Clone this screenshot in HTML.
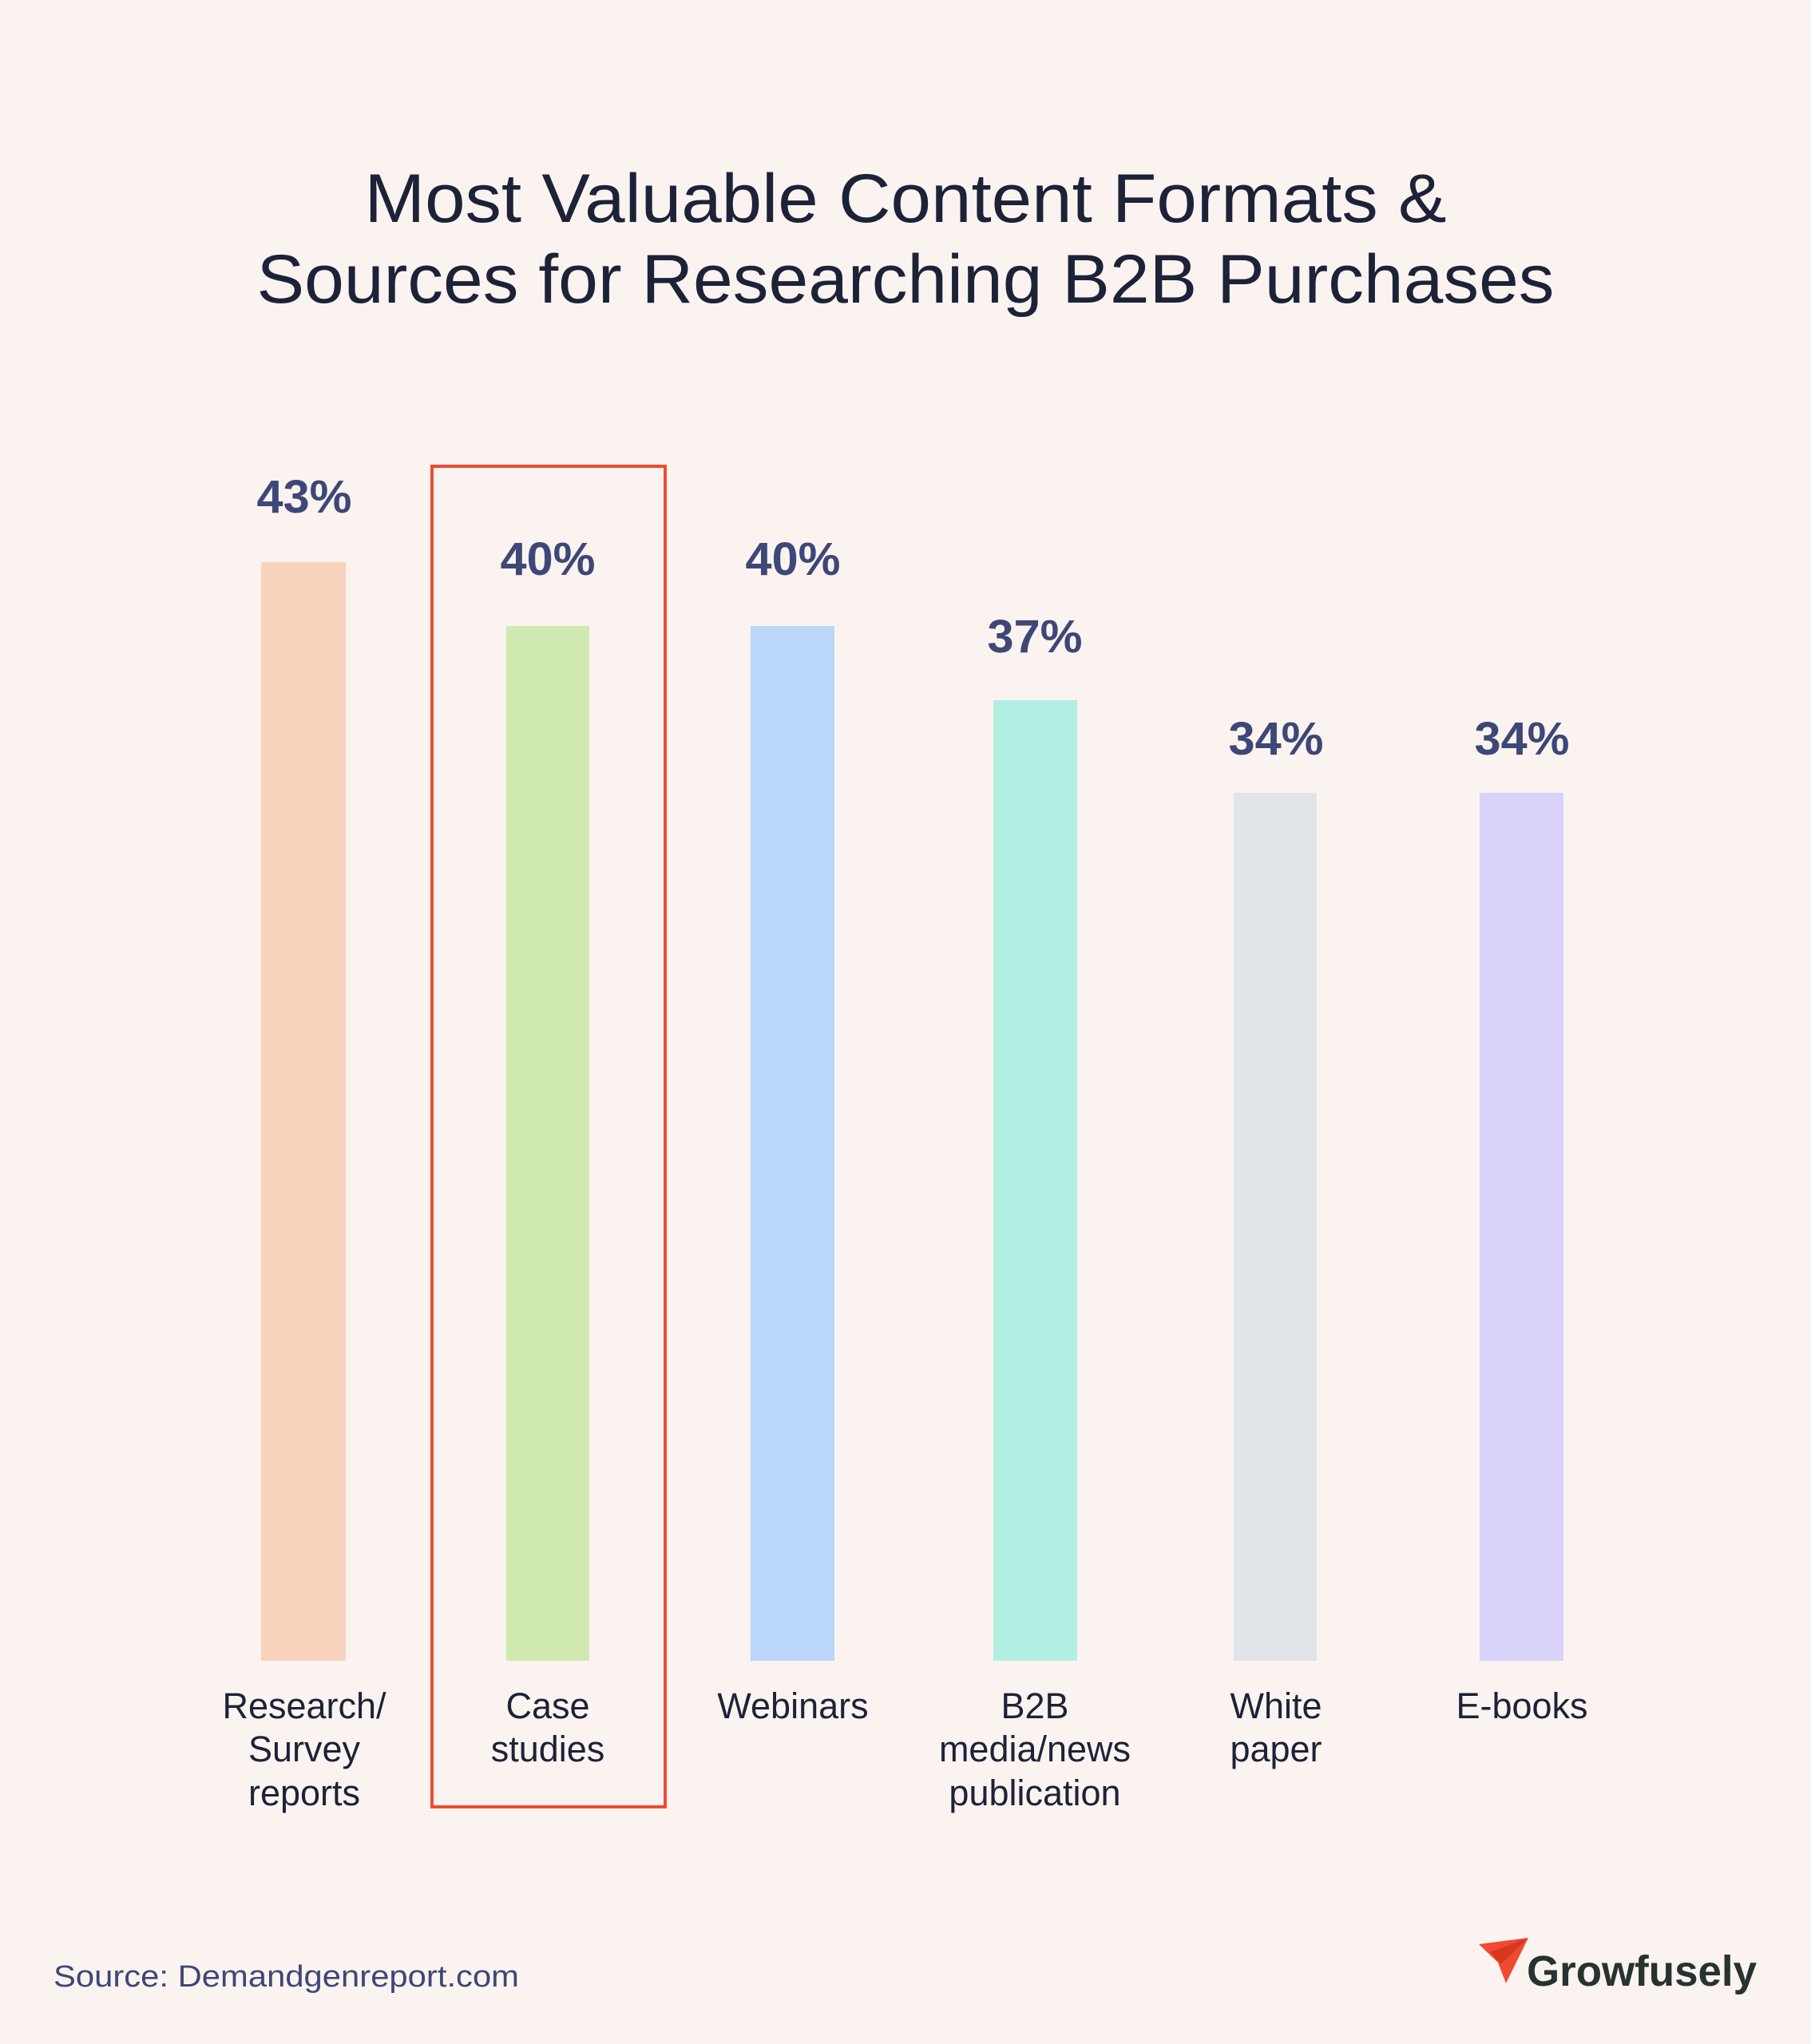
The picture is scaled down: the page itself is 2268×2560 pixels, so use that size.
<!DOCTYPE html>
<html><head><meta charset="utf-8"><style>
html,body{margin:0;padding:0;background:#fbf3ef;}
svg{display:block;}
</style></head><body>
<svg width="2268" height="2560" viewBox="0 0 2268 2560" xmlns="http://www.w3.org/2000/svg" font-family="Liberation Sans, sans-serif">
<rect width="2268" height="2560" fill="#fbf3ef"/>
<g fill="#1c2238" font-size="86" font-weight="500" text-anchor="middle">
<text x="1134" y="278" textLength="1355" lengthAdjust="spacingAndGlyphs">Most Valuable Content Formats &amp;</text>
<text x="1134" y="379" textLength="1625" lengthAdjust="spacingAndGlyphs">Sources for Researching B2B Purchases</text>
</g>
<rect x="327" y="704" width="106" height="1376" fill="#f7d3bd"/>
<rect x="634" y="784" width="104" height="1296" fill="#d0e9b0"/>
<rect x="940" y="784" width="105" height="1296" fill="#bad6f8"/>
<rect x="1244" y="877" width="105" height="1203" fill="#b3efe2"/>
<rect x="1545" y="993" width="104" height="1087" fill="#e1e5ea"/>
<rect x="1853" y="993" width="105" height="1087" fill="#d9d2fa"/>
<rect x="541" y="584" width="292" height="1679" fill="none" stroke="#f04a32" stroke-width="4"/>
<g fill="#3d4778" font-size="58" font-weight="bold" text-anchor="middle">
<text x="381" y="642" textLength="119" lengthAdjust="spacingAndGlyphs">43%</text>
<text x="686" y="720" textLength="119" lengthAdjust="spacingAndGlyphs">40%</text>
<text x="993" y="720" textLength="119" lengthAdjust="spacingAndGlyphs">40%</text>
<text x="1296" y="817" textLength="119" lengthAdjust="spacingAndGlyphs">37%</text>
<text x="1598" y="945" textLength="119" lengthAdjust="spacingAndGlyphs">34%</text>
<text x="1906" y="945" textLength="119" lengthAdjust="spacingAndGlyphs">34%</text>
</g>
<g fill="#1c2238" font-size="45" text-anchor="middle">
<text x="381" y="2152">Research/</text>
<text x="381" y="2206">Survey</text>
<text x="381" y="2261">reports</text>
<text x="686" y="2152">Case</text>
<text x="686" y="2206">studies</text>
<text x="993" y="2152">Webinars</text>
<text x="1296" y="2152">B2B</text>
<text x="1296" y="2206">media/news</text>
<text x="1296" y="2261">publication</text>
<text x="1598" y="2152">White</text>
<text x="1598" y="2206">paper</text>
<text x="1906" y="2152">E-books</text>
</g>
<text x="67" y="2488" fill="#3d4778" font-size="38" textLength="583" lengthAdjust="spacingAndGlyphs">Source: Demandgenreport.com</text>
<polygon points="1852,2435 1914,2427 1886,2484 1876,2458" fill="#f04a32"/>
<polygon points="1866,2445 1914,2427 1880,2460" fill="#d8381f"/>
<text x="1912" y="2487" fill="#263330" font-size="54" font-weight="bold" textLength="288" lengthAdjust="spacingAndGlyphs">Growfusely</text>
</svg>
</body></html>
